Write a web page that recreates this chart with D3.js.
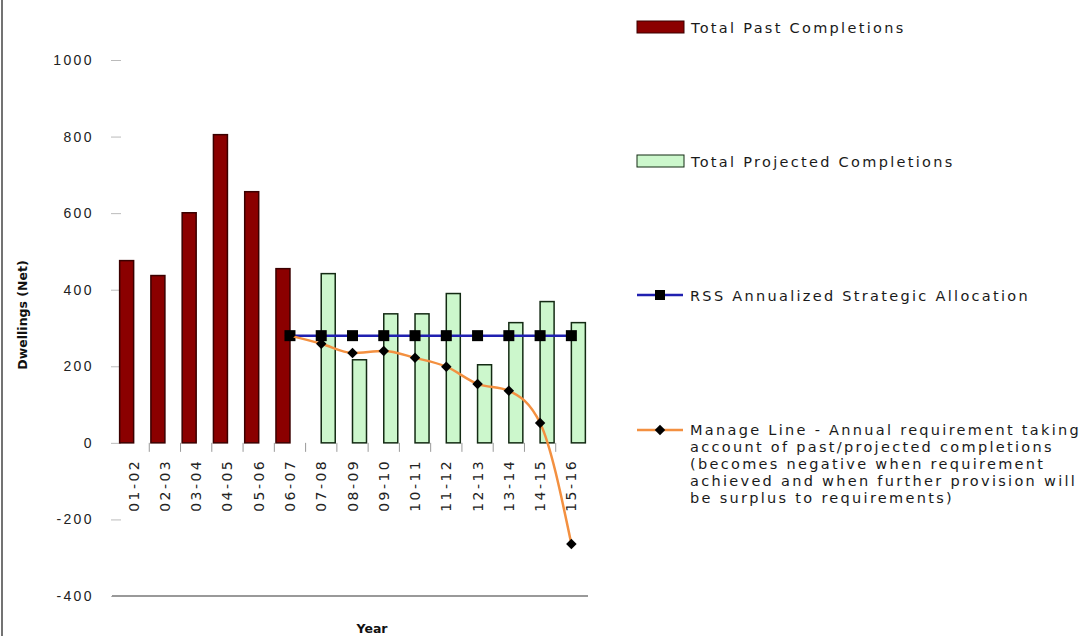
<!DOCTYPE html>
<html>
<head>
<meta charset="utf-8">
<script src="https://cdn.jsdelivr.net/npm/d3@7"></script>
<style>
  body { margin: 0; background: #fff; }
  svg { display: block; font-family: "DejaVu Sans", Verdana, sans-serif; }
  .tickLabel { font-size: 14px; letter-spacing: 2.4px; fill: #222; }
  .legendText { font-size: 14.5px; letter-spacing: 2.3px; fill: #1a1a1a; }
  .axisTitle { font-size: 12.5px; font-weight: bold; fill: #111; }
</style>
</head>
<body>
<svg id="chart"></svg>
<script>

/////////////////////////////////
// DATA
//////////////////////////////////

var years = ["01-02", "02-03", "03-04", "04-05", "05-06", "06-07", "07-08", "08-09",
             "09-10", "10-11", "11-12", "12-13", "13-14", "14-15", "15-16"];

// Total Past Completions (null where the year is projected)
var pastCompletions = [476, 437, 601, 805, 656, 455, null, null, null, null, null, null, null, null, null];

// Total Projected Completions
var projectedCompletions = [null, null, null, null, null, null, 442, 217, 337, 337, 390, 204, 314, 369, 314];

// RSS Annualized Strategic Allocation
var rssAllocation = [null, null, null, null, null, 280, 280, 280, 280, 280, 280, 280, 280, 280, 280];

// Manage Line
var manageLine = [null, null, null, null, null, 280, 259, 235, 240, 222, 199, 154, 136, 52, -264];

var yTicks = [-400, -200, 0, 200, 400, 600, 800, 1000];

var manageLabel = [
  "Manage Line - Annual requirement taking",
  "account of past/projected completions",
  "(becomes negative when requirement",
  "achieved and when further provision will",
  "be surplus to requirements)"
];


/////////////////////////////////
// SET UP
//////////////////////////////////

var width = 1084;
var height = 636;

var svg = d3.select("#chart")
  .attr("width", width)
  .attr("height", height);

svg.append("rect")
  .attr("width", width)
  .attr("height", height)
  .attr("fill", "#fff");

// left edge of the chart frame
svg.append("line")
  .attr("x1", 2).attr("x2", 2)
  .attr("y1", 0).attr("y2", height)
  .attr("stroke", "#444")
  .attr("stroke-width", 1.5);

var xScale = d3.scaleBand()
  .domain(years)
  .range([118, 587]);

var seriesScale = d3.scaleBand()
  .domain(["past", "projected"])
  .range([xScale.bandwidth() / 2 - 14, xScale.bandwidth() / 2 + 14]);

var yScale = d3.scaleLinear()
  .domain([-400, 1000])
  .range([596, 60]);

function xCenter(d) {
  return xScale(d) + xScale.bandwidth() / 2;
}


/////////////////////////////////
// AXES
//////////////////////////////////

// y axis: labels and short tick marks, no axis line
var yAxis = svg.append("g")
  .attr("transform", "translate(121,0)")
  .call(d3.axisLeft(yScale)
    .tickValues(yTicks)
    .tickFormat(function(d) { return String(d); }) // plain hyphen, no thousands comma
    .tickSize(10)
    .tickPadding(17));

yAxis.select(".domain").remove();
yAxis.selectAll(".tick line").attr("stroke", "#bbb");
yAxis.selectAll(".tick text")
  .attr("class", "tickLabel")
  .attr("font-family", null)
  .attr("font-size", null);

// bottom line at -400
svg.append("line")
  .attr("x1", 112).attr("x2", 588)
  .attr("y1", yScale(-400)).attr("y2", yScale(-400))
  .attr("stroke", "#999")
  .attr("stroke-width", 2);

// category ticks between the years, hanging below zero
var boundaries = years.slice(1);
svg.selectAll(".catTick")
  .data(boundaries)
  .enter()
  .append("line")
    .attr("class", "catTick")
    .attr("x1", function(d) { return xScale(d); })
    .attr("x2", function(d) { return xScale(d); })
    .attr("y1", yScale(0))
    .attr("y2", yScale(0) + 9)
    .attr("stroke", "#999");

// rotated year labels
svg.selectAll(".yearLabel")
  .data(years)
  .enter()
  .append("text")
    .attr("class", "tickLabel yearLabel")
    .attr("text-anchor", "end")
    .attr("transform", function(d) {
      return "translate(" + (xCenter(d) + 5) + "," + 459 + ") rotate(-90)";
    })
    .text(function(d) { return d; });

svg.append("text")
  .attr("class", "axisTitle")
  .attr("text-anchor", "middle")
  .attr("transform", "translate(27,315) rotate(-90)")
  .text("Dwellings (Net)");

svg.append("text")
  .attr("class", "axisTitle")
  .attr("text-anchor", "middle")
  .attr("x", 372)
  .attr("y", 633)
  .text("Year");


/////////////////////////////////
// BARS
//////////////////////////////////

var barData = [];
years.forEach(function(y, i) {
  if (pastCompletions[i] !== null) barData.push({year: y, series: "past", value: pastCompletions[i]});
  if (projectedCompletions[i] !== null) barData.push({year: y, series: "projected", value: projectedCompletions[i]});
});

var barFill = d3.scaleOrdinal()
  .domain(["past", "projected"])
  .range(["#8b0000", "#ccf7cc"]);

var barStroke = d3.scaleOrdinal()
  .domain(["past", "projected"])
  .range(["#3a0000", "#132a13"]);

svg.selectAll(".bar")
  .data(barData)
  .enter()
  .append("rect")
    .attr("class", "bar")
    .attr("x", function(d) { return xScale(d.year) + seriesScale(d.series); })
    .attr("width", seriesScale.bandwidth())
    .attr("y", function(d) { return yScale(d.value); })
    .attr("height", function(d) { return yScale(0) - yScale(d.value); })
    .attr("fill", function(d) { return barFill(d.series); })
    .attr("stroke", function(d) { return barStroke(d.series); })
    .attr("stroke-width", 1.5);


/////////////////////////////////
// LINES
//////////////////////////////////

function toPoints(values) {
  var pts = [];
  values.forEach(function(v, i) {
    if (v !== null) pts.push({year: years[i], value: v});
  });
  return pts;
}

var rssPoints = toPoints(rssAllocation);
var managePoints = toPoints(manageLine);

var straightLine = d3.line()
  .x(function(d) { return xCenter(d.year); })
  .y(function(d) { return yScale(d.value); });

var smoothLine = d3.line()
  .x(function(d) { return xCenter(d.year); })
  .y(function(d) { return yScale(d.value); })
  .curve(d3.curveMonotoneX);

svg.append("path")
  .datum(rssPoints)
  .attr("d", straightLine)
  .attr("fill", "none")
  .attr("stroke", "#2020b0")
  .attr("stroke-width", 2.5);

svg.selectAll(".rssMarker")
  .data(rssPoints)
  .enter()
  .append("rect")
    .attr("class", "rssMarker")
    .attr("x", function(d) { return xCenter(d.year) - 5.5; })
    .attr("y", function(d) { return yScale(d.value) - 5.5; })
    .attr("width", 11)
    .attr("height", 11)
    .attr("fill", "#000");

svg.append("path")
  .datum(managePoints)
  .attr("d", smoothLine)
  .attr("fill", "none")
  .attr("stroke", "#f39040")
  .attr("stroke-width", 2.5);

var diamond = d3.symbol().type(d3.symbolDiamond2).size(70);

svg.selectAll(".manageMarker")
  .data(managePoints)
  .enter()
  .append("path")
    .attr("class", "manageMarker")
    .attr("d", diamond)
    .attr("transform", function(d) {
      return "translate(" + xCenter(d.year) + "," + yScale(d.value) + ")";
    })
    .attr("fill", "#000");


/////////////////////////////////
// LEGEND
//////////////////////////////////

var legend = svg.append("g");

legend.append("rect")
  .attr("x", 637).attr("y", 21)
  .attr("width", 47).attr("height", 12)
  .attr("fill", barFill("past"))
  .attr("stroke", barStroke("past"));

legend.append("text")
  .attr("class", "legendText")
  .attr("x", 691).attr("y", 33)
  .text("Total Past Completions");

legend.append("rect")
  .attr("x", 637).attr("y", 155)
  .attr("width", 47).attr("height", 12)
  .attr("fill", barFill("projected"))
  .attr("stroke", barStroke("projected"));

legend.append("text")
  .attr("class", "legendText")
  .attr("x", 691).attr("y", 167)
  .text("Total Projected Completions");

legend.append("line")
  .attr("x1", 637).attr("x2", 683)
  .attr("y1", 295).attr("y2", 295)
  .attr("stroke", "#2020b0")
  .attr("stroke-width", 2.5);

legend.append("rect")
  .attr("x", 655).attr("y", 290)
  .attr("width", 10).attr("height", 10)
  .attr("fill", "#000");

legend.append("text")
  .attr("class", "legendText")
  .attr("x", 690).attr("y", 301)
  .text("RSS Annualized Strategic Allocation");

legend.append("line")
  .attr("x1", 637).attr("x2", 683)
  .attr("y1", 430).attr("y2", 430)
  .attr("stroke", "#f39040")
  .attr("stroke-width", 2.5);

legend.append("path")
  .attr("d", diamond)
  .attr("transform", "translate(660,430)")
  .attr("fill", "#000");

legend.append("text")
  .attr("class", "legendText")
  .attr("x", 690).attr("y", 435)
  .selectAll("tspan")
  .data(manageLabel)
  .enter()
  .append("tspan")
    .attr("x", 690)
    .attr("dy", function(d, i) { return i === 0 ? 0 : 17; })
    .text(function(d) { return d; });

</script>
</body>
</html>
